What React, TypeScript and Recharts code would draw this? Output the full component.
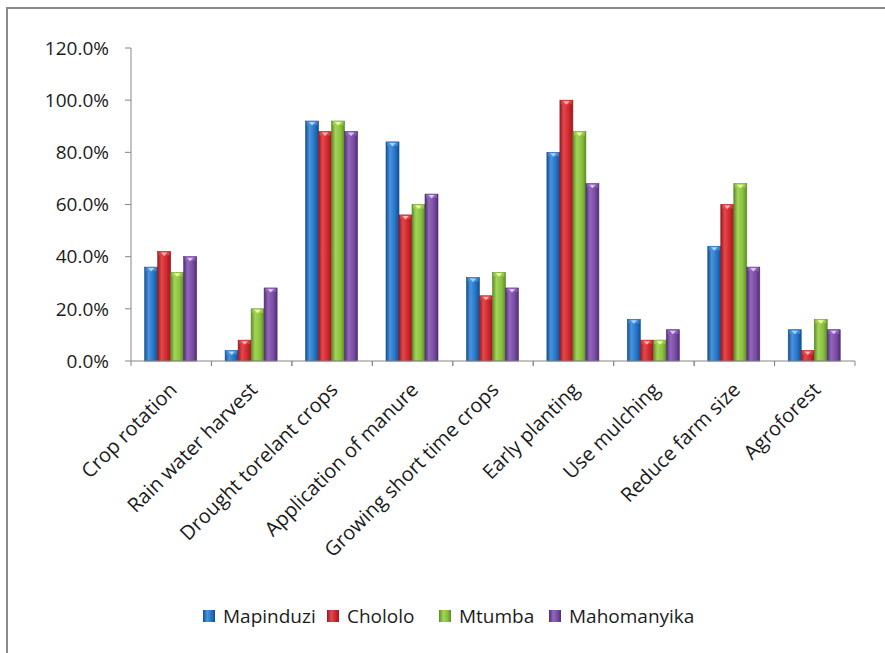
import { BarChart, Bar, XAxis, YAxis, Legend } from "recharts";

const categories = [
  "Crop rotation",
  "Rain water harvest",
  "Drought torelant crops",
  "Application of manure",
  "Growing short time crops",
  "Early planting",
  "Use mulching",
  "Reduce farm size",
  "Agroforest",
];

const mapinduzi = [36, 4, 92, 84, 32, 80, 16, 44, 12];
const chololo = [42, 8, 88, 56, 25, 100, 8, 60, 4];
const mtumba = [34, 20, 92, 60, 34, 88, 8, 68, 16];
const mahomanyika = [40, 28, 88, 64, 28, 68, 12, 36, 12];

const yTicks = [0, 20, 40, 60, 80, 100, 120];

const series = [
  { key: "Mapinduzi", dark: "#14508f", mid: "#2474c6", light: "#4a94de", cap: "#a9d4ff" },
  { key: "Chololo", dark: "#951b20", mid: "#d0262d", light: "#e4484d", cap: "#ffb3b5" },
  { key: "Mtumba", dark: "#5f8a27", mid: "#89c13d", light: "#a2d459", cap: "#f3ff9a" },
  { key: "Mahomanyika", dark: "#4f2d75", mid: "#7a4ca3", light: "#9267bb", cap: "#dcc4f5" },
];

const data = categories.map((name, i) => ({
  name,
  Mapinduzi: mapinduzi[i],
  Chololo: chololo[i],
  Mtumba: mtumba[i],
  Mahomanyika: mahomanyika[i],
}));

const FONT = "'Open Sans', sans-serif";
const AXIS = "#868686";
const W = 885;
const H = 653;
const LEFT = 131;
const RIGHT = 30;
const BAND = (W - LEFT - RIGHT) / categories.length;

const GlossyBar = (props: any) => {
  const { x, y, width, height, idx } = props;
  if (!height || height <= 0) return null;
  const s = series[idx];
  const tw = width * 0.5;
  return (
    <g>
      <rect x={x} y={y} width={width} height={height} fill={`url(#grad${idx})`} stroke={s.dark} strokeWidth={0.6} />
      <rect x={x + 1} y={y} width={width - 2} height={Math.min(4, height)} fill={s.light} opacity={0.7} />
      <path
        d={`M${x + width / 2 - tw / 2},${y + 1} L${x + width / 2 + tw / 2},${y + 1} L${x + width / 2},${y + 4.5} Z`}
        fill={s.cap}
      />
    </g>
  );
};

const XTick = (props: any) => {
  const { x, y, payload } = props;
  return (
    <g transform={`translate(${x},${y})`}>
      <line x1={-BAND / 2} y1={0} x2={-BAND / 2} y2={5} stroke={AXIS} />
      <line x1={BAND / 2} y1={0} x2={BAND / 2} y2={5} stroke={AXIS} />
      <text
        x={7}
        y={30}
        transform="rotate(-45, 7, 30)"
        textAnchor="end"
        fontFamily={FONT}
        fontSize={20}
        fill="#1c1c1c"
      >
        {payload.value}
      </text>
    </g>
  );
};

// legend keeps the series order (recharts sorts the payload by name)
const LegendContent = () => {
  const widths = [124, 112, 110, 160];
  return (
    <div style={{ display: "flex", paddingLeft: 203, fontFamily: FONT, fontSize: 19, color: "#1c1c1c", lineHeight: "24px" }}>
      {series.map((s, i) => (
        <div key={s.key} style={{ width: widths[i], display: "flex", alignItems: "center" }}>
          <div
            style={{
              width: 12,
              height: 12,
              marginRight: 8,
              background: `linear-gradient(to right, ${s.dark}, ${s.light} 35%, ${s.mid} 70%, ${s.dark})`,
            }}
          />
          <span>{s.key}</span>
        </div>
      ))}
    </div>
  );
};

export default function App() {
  return (
    <div style={{ position: "absolute", left: 0, top: 0, width: W, height: H, background: "#fff", overflow: "hidden" }}>
      <div
        style={{
          position: "absolute",
          left: 6,
          top: 7,
          width: W,
          height: H,
          borderLeft: "2px solid #8a8a8a",
          borderTop: "2px solid #8a8a8a",
        }}
      />
      <div style={{ position: "absolute", left: 0, top: 0 }}>
        <BarChart
          width={W}
          height={H}
          data={data}
          margin={{ top: 48, right: RIGHT, bottom: 0, left: 0 }}
          barCategoryGap="17%"
          barGap={0}
        >
          <defs>
            {series.map((s, i) => (
              <linearGradient key={s.key} id={`grad${i}`} x1="0" y1="0" x2="1" y2="0">
                <stop offset="0%" stopColor={s.dark} />
                <stop offset="30%" stopColor={s.light} />
                <stop offset="70%" stopColor={s.mid} />
                <stop offset="100%" stopColor={s.dark} />
              </linearGradient>
            ))}
          </defs>
          <XAxis
            dataKey="name"
            interval={0}
            height={292}
            stroke={AXIS}
            tickLine={false}
            tickSize={0}
            tickMargin={0}
            tick={<XTick />}
          />
          <YAxis
            width={LEFT}
            domain={[0, 120]}
            ticks={yTicks}
            interval={0}
            stroke={AXIS}
            tickSize={6}
            tickMargin={16}
            tick={{ fontFamily: FONT, fontSize: 19, fill: "#1c1c1c" }}
            tickFormatter={(v: number) => `${v.toFixed(1)}%`}
          />
          <Legend
            layout="horizontal"
            verticalAlign="middle"
            align="center"
            wrapperStyle={{ top: 604, left: 0, width: W }}
            content={<LegendContent />}
          />
          {series.map((s, i) => (
            <Bar
              key={s.key}
              dataKey={s.key}
              fill={s.mid}
              isAnimationActive={false}
              shape={(p: any) => <GlossyBar {...p} idx={i} />}
            />
          ))}
        </BarChart>
      </div>
    </div>
  );
}
